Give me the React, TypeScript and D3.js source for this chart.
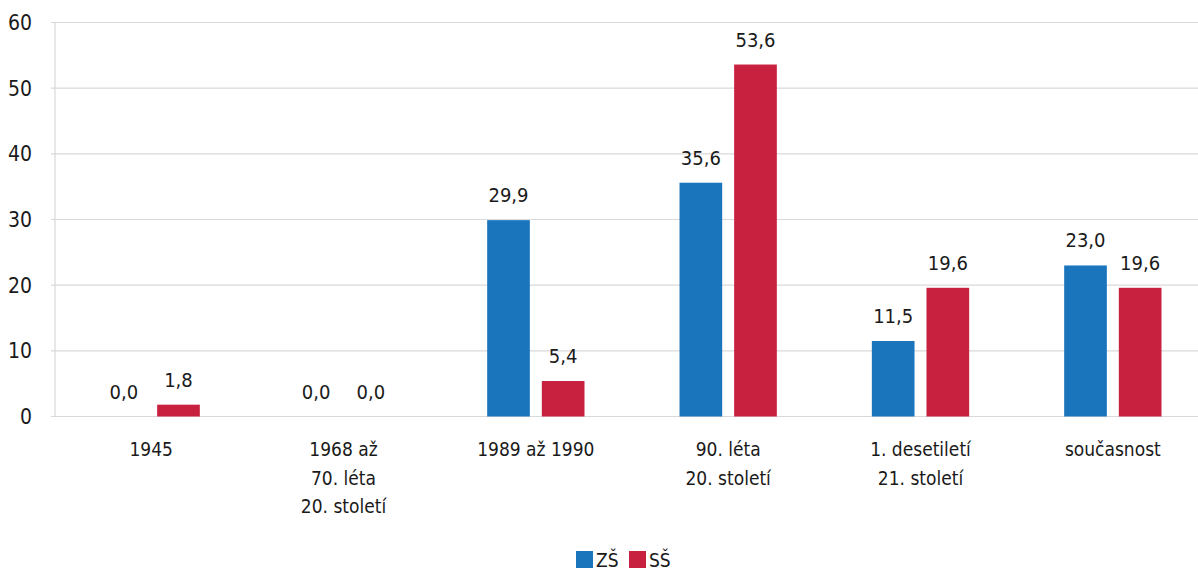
import * as d3 from 'd3';

const CATEGORIES = [
  ['1945'],
  ['1968 až', '70. léta', '20. století'],
  ['1989 až 1990'],
  ['90. léta', '20. století'],
  ['1. desetiletí', '21. století'],
  ['současnost'],
];
const SERIES = ['ZŠ', 'SŠ'];
const ZS_VALUES = [0.0, 0.0, 29.9, 35.6, 11.5, 23.0];
const SS_VALUES = [1.8, 0.0, 5.4, 53.6, 19.6, 19.6];
const Y_TICKS = [0, 10, 20, 30, 40, 50, 60];

const COLORS: Record<string, string> = { 'ZŠ': '#1b75bc', 'SŠ': '#c8203f' };
const FONT = "'Liberation Sans Narrow', 'DejaVu Sans Condensed', sans-serif";
const W = 1198;
const H = 572;

export default function App() {
  const x = d3.scaleBand<number>().domain(d3.range(CATEGORIES.length)).range([55, 1209]);
  const bw = x.bandwidth();
  const inner = d3.scaleBand<string>().domain(SERIES).range([bw * 0.247, bw * 0.753]).paddingInner(0.219);
  const y = d3.scaleLinear().domain([0, 60]).range([416.5, 22.5]);
  const values: Record<string, number[]> = { 'ZŠ': ZS_VALUES, 'SŠ': SS_VALUES };
  const fmt = (v: number) => v.toFixed(1).replace('.', ',');

  return (
    <svg width={W} height={H} style={{ position: 'absolute', left: 0, top: 0, background: '#fff' }} fontFamily={FONT}>
      {/* grid */}
      {Y_TICKS.map(t => (
        <g key={t}>
          <line x1={51} x2={1209} y1={y(t)} y2={y(t)} stroke="#d9d9d9" strokeWidth={1.2} />
          <text x={32} y={y(t)} dy="0.35em" textAnchor="end" fontSize={21} fill="#1a1a1a">{t}</text>
        </g>
      ))}
      <line x1={55} x2={55} y1={y(60)} y2={y(0)} stroke="#d9d9d9" strokeWidth={1.2} />

      {/* bars */}
      {SERIES.map(s => values[s].map((v, i) => {
        const bx = (x(i) ?? 0) + (inner(s) ?? 0);
        return (
          <g key={s + i}>
            <rect x={bx} y={y(v)} width={inner.bandwidth()} height={y(0) - y(v)} fill={COLORS[s]} />
            <text x={bx + inner.bandwidth() / 2} y={y(v) - 18} textAnchor="middle" fontSize={20} fill="#1a1a1a">{fmt(v)}</text>
          </g>
        );
      }))}

      {/* category labels */}
      {CATEGORIES.map((lines, i) => (
        <text key={i} x={(x(i) ?? 0) + bw / 2} y={456} textAnchor="middle" fontSize={19} fill="#1a1a1a">
          {lines.map((l, j) => (
            <tspan key={j} x={(x(i) ?? 0) + bw / 2} dy={j === 0 ? 0 : 28.5}>{l}</tspan>
          ))}
        </text>
      ))}

      {/* legend */}
      {SERIES.map((s, i) => (
        <g key={s} transform={`translate(${576 + i * 53},551)`}>
          <rect width={17} height={17} fill={COLORS[s]} />
          <text x={20} y={16} fontSize={19} fill="#1a1a1a">{s}</text>
        </g>
      ))}
    </svg>
  );
}
